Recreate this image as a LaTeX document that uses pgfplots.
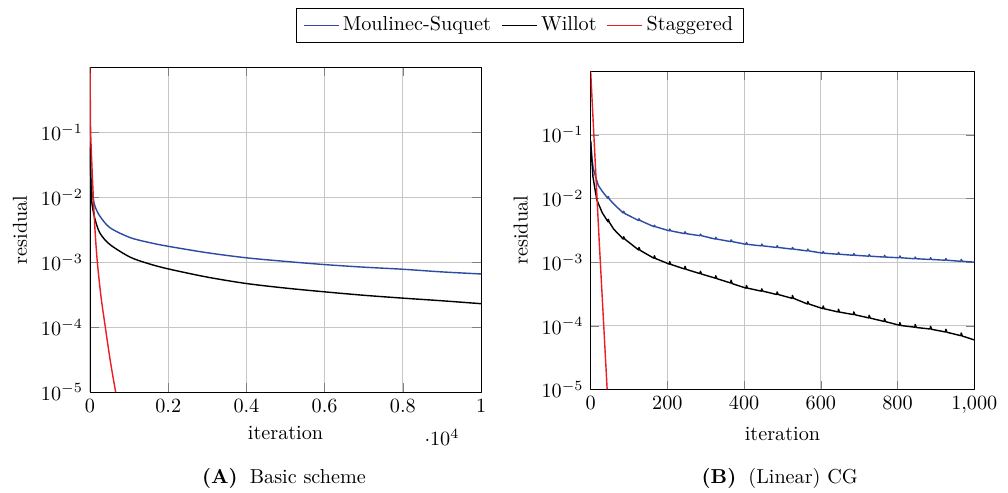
\documentclass[border=0pt]{standalone}
\usepackage{pgfplots}
\pgfplotsset{compat=1.18}
\definecolor{msblue}{RGB}{45,75,165}
\definecolor{stred}{RGB}{235,30,35}
\begin{document}
\begin{tikzpicture}[line join=round]
% (A) basic scheme
\begin{axis}[
  scale only axis, anchor=south west,
  at={(44.55pt,49.5pt)}, width=193.6pt, height=160.7pt,
  ymode=log, ymin=1e-5, ymax=1,
  ytick={1e-5,1e-4,1e-3,1e-2,1e-1}, yminorticks=false,
  xmin=0, xmax=10000,
  grid=major,
  major grid style={gray!45, line width=0.5pt},
  xlabel={iteration}, ylabel={residual},
  legend columns=3,
  legend style={at={(1.0997,1.130)}, anchor=center,
    /tikz/every even column/.append style={column sep=3pt}},
]
\addplot[msblue, line width=0.7pt, smooth] coordinates {
 (0,0.06) (26,0.02) (51,0.012) (128,0.0073) (256,0.0051) (512,0.0034)
 (1024,0.0024) (1536,0.0020) (2000,0.00176) (3000,0.0014) (4000,0.00117)
 (5000,0.00103) (6000,0.00092) (7000,0.00084) (8000,0.00078) (9000,0.00071)
 (10000,0.00066)};
\addplot[black, line width=0.7pt, smooth] coordinates {
 (0,0.06) (26,0.015) (51,0.008) (128,0.0046) (256,0.0028) (512,0.00187)
 (1024,0.0012) (1500,0.00095) (2000,0.00079) (3000,0.00059) (4000,0.00047)
 (5000,0.0004) (6000,0.00035) (7000,0.00031) (8000,0.00028) (9000,0.000255)
 (10000,0.00023)};
\addplot[stred, line width=0.7pt, smooth] coordinates {
 (0,1) (8,0.3) (17,0.1) (50,0.03) (85,0.01) (130,0.003) (188,0.001)
 (280,0.0003) (392,0.0001) (520,0.00003) (656,0.00001)};
\legend{Moulinec-Suquet, Willot, Staggered}
\end{axis}
% (B) linear CG
\begin{axis}[
  scale only axis, anchor=south west,
  at={(292.4pt,50.8pt)}, width=189.9pt, height=157.6pt,
  ymode=log, ymin=1e-5, ymax=1,
  ytick={1e-5,1e-4,1e-3,1e-2,1e-1}, yminorticks=false,
  xmin=0, xmax=1000,
  grid=major,
  major grid style={gray!45, line width=0.5pt},
  xlabel={iteration}, ylabel={residual},
]
\addplot[msblue, line width=0.7pt] coordinates {
 (0,0.08) (3,0.045) (6,0.032) (10,0.025) (20,0.016) (30,0.013)
 (45,0.0100) (46,0.0107) (49,0.0097) (60,0.0082)
 (85,0.0059) (86,0.0063) (89,0.0058)
 (125,0.0045) (126,0.0048) (129,0.0045)
 (165,0.0036) (166,0.0038) (169,0.0036)
 (205,0.0031) (206,0.0033) (209,0.0031)
 (245,0.0028) (246,0.0030) (249,0.0028)
 (285,0.0026) (286,0.00275) (289,0.0026)
 (325,0.0023) (326,0.00245) (329,0.0023)
 (365,0.0021) (366,0.00224) (369,0.0021)
 (405,0.0019) (406,0.00203) (409,0.0019)
 (445,0.0018) (446,0.00192) (449,0.0018)
 (485,0.0017) (486,0.00181) (489,0.0017)
 (525,0.0016) (526,0.0017) (529,0.0016)
 (565,0.0015) (566,0.0016) (569,0.0015)
 (605,0.00138) (606,0.00147) (609,0.00138)
 (645,0.00133) (646,0.00142) (649,0.00133)
 (685,0.00128) (686,0.00136) (689,0.00128)
 (725,0.00124) (726,0.00132) (729,0.00124)
 (765,0.0012) (766,0.00128) (769,0.0012)
 (805,0.00117) (806,0.00125) (809,0.00117)
 (845,0.00113) (846,0.0012) (849,0.00113)
 (885,0.0011) (886,0.00117) (889,0.0011)
 (925,0.00107) (926,0.00114) (929,0.00107)
 (965,0.00103) (966,0.0011) (969,0.00103)
 (1000,0.00100)};
\addplot[black, line width=0.7pt] coordinates {
 (0,0.08) (3,0.04) (6,0.022) (10,0.0155) (16,0.0095) (30,0.006)
 (45,0.0043) (46,0.0047) (49,0.0042) (60,0.0033)
 (85,0.0023) (86,0.0025) (89,0.0023)
 (125,0.00155) (126,0.0017) (129,0.00153)
 (165,0.00115) (166,0.00126) (169,0.00114)
 (205,0.00093) (206,0.00102) (209,0.00092)
 (245,0.00078) (246,0.00086) (249,0.00077)
 (285,0.00066) (286,0.00072) (289,0.00065)
 (325,0.00056) (326,0.00061) (329,0.00055)
 (365,0.00047) (366,0.00052) (369,0.00046)
 (405,0.00039) (406,0.00043) (409,0.00039)
 (445,0.00035) (446,0.00038) (449,0.00035)
 (485,0.00031) (486,0.00034) (489,0.00031)
 (525,0.00027) (526,0.0003) (529,0.00027)
 (565,0.00022) (566,0.00024) (569,0.00022)
 (605,0.000186) (606,0.000205) (609,0.000185)
 (645,0.000165) (646,0.000182) (649,0.000164)
 (685,0.00015) (686,0.000165) (689,0.000149)
 (725,0.000133) (726,0.000146) (729,0.000132)
 (765,0.000117) (766,0.000129) (769,0.000116)
 (805,0.000102) (806,0.000112) (809,0.000101)
 (845,0.000095) (846,0.000105) (849,0.000094)
 (885,0.000089) (886,0.000098) (889,0.000088)
 (925,0.00008) (926,0.000088) (929,0.000079)
 (965,0.00007) (966,0.000077) (969,0.000069)
 (1000,0.00006)};
\addplot[stred, line width=0.7pt] coordinates {(0,1) (21,0.003) (43,0.00001)};
\end{axis}
\node at (140.6pt,6.9pt) {\textbf{(A)}\hspace{6pt}Basic scheme};
\node at (386pt,6.9pt) {\textbf{(B)}\hspace{6pt}(Linear) CG};
\pgfresetboundingbox
\path[use as bounding box] (0,0) rectangle (499pt,243.6pt);
\end{tikzpicture}
\end{document}
